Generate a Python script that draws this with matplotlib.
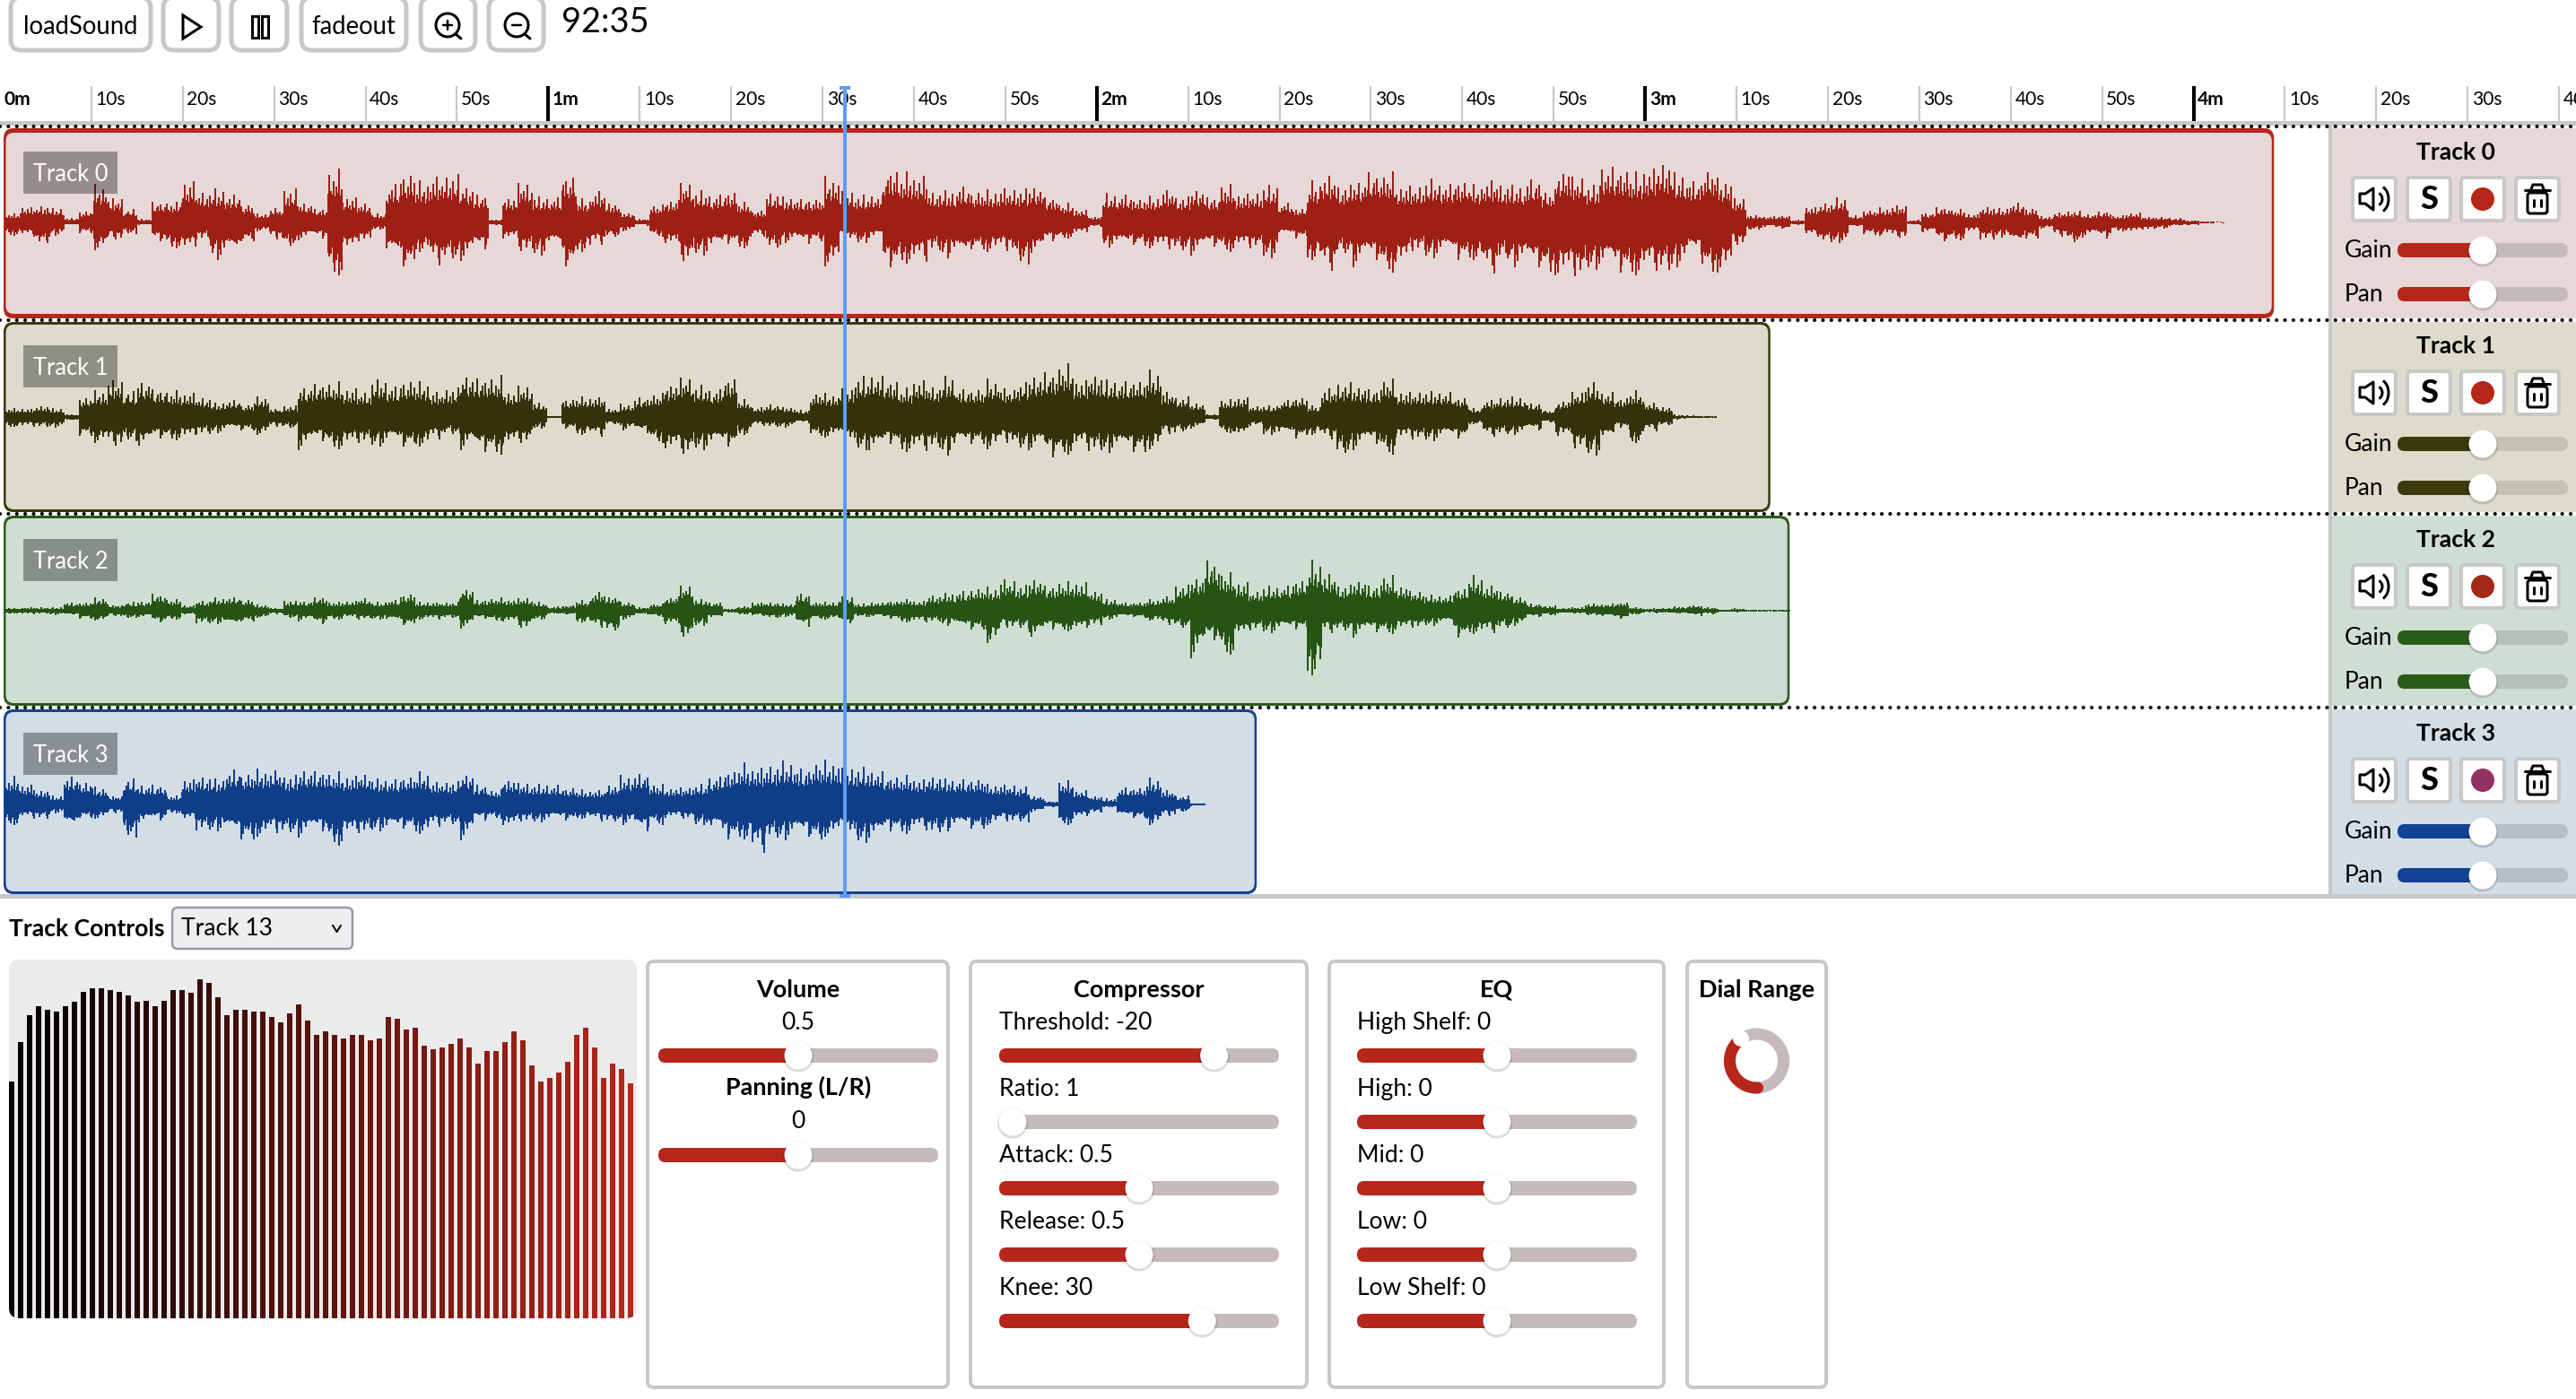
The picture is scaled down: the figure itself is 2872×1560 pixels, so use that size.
import numpy as np
import matplotlib
matplotlib.use("Agg")
import matplotlib.pyplot as plt
from matplotlib.patches import FancyBboxPatch, Circle, Rectangle, Polygon, Arc
from matplotlib.colors import to_rgb

W, H = 2872, 1560
PX_PER_S = 10.19
FONT = "Lato"
plt.rcParams["font.family"] = [FONT, "DejaVu Sans"]

TIME_TEXT = "92:35"
TOOL_LABELS = ["loadSound", "fadeout"]
TRACK_NAMES = ["Track 0", "Track 1", "Track 2", "Track 3"]
TRACK_BG = ["#e7d8d8", "#dddccc", "#cfded3", "#d2dde6"]
TRACK_EDGE = ["#b7261a", "#3a3a0c", "#2a5c18", "#114293"]
TRACK_WAVE = ["#9e1f13", "#35320a", "#265415", "#0f3d88"]
TRACK_REST = ["#c5b9b9", "#c3c2b4", "#b6c1b8", "#b6bec6"]
RECORD_COL = ["#b7261a", "#b7261a", "#a32a17", "#93305f"]
CLIP_END_S = [248.8, 193.7, 195.8, 137.5]
CLIP_LW = [5, 3, 3, 3]

WAVE_T0 = 1.5
WAVE_DT = 1.6

# Waveform envelopes, one up and one down value per 1.6 s bin.
T0_UP = [30,55,58,50,15,40,130,85,45,12,75,70,145,110,115,100,65,30,50,115,70,50,180,90,70,30,140,175,140,160,165,130,100,10,90,140,90,90,170,80,110,70,35,12,60,80,140,110,100,
         110,70,40,105,90,85,85,155,110,95,100,190,170,165,110,110,130,110,110,120,115,130,90,65,45,20,100,100,85,90,115,90,120,90,130,100,105,130,70,50,140,165,130,150,180,170,130,130,150,140,150,130,150,135,130,
         155,110,190,160,130,200,190,170,190,210,170,150,190,150,85,25,22,25,8,55,70,85,25,45,50,60,8,35,55,45,30,55,50,70,50,20,35,40,30,40,25,35,20,18,15,8,3,2]
T0_DN = [45,50,75,45,10,40,95,60,40,10,70,90,100,60,125,120,70,30,60,85,60,60,180,100,65,25,130,165,100,150,130,130,100,10,60,100,110,90,165,100,80,50,30,12,50,80,135,110,100,
         80,90,50,90,70,80,70,150,60,70,60,170,140,140,100,120,130,100,100,100,140,120,70,55,40,15,85,90,85,90,95,100,110,90,100,90,90,120,50,60,130,170,110,150,140,170,150,100,120,120,140,130,180,130,150,
         170,180,190,190,160,170,190,180,170,170,150,120,180,170,80,25,20,25,8,50,70,70,20,45,45,55,8,40,70,60,35,60,50,85,60,20,50,70,50,60,30,35,25,20,15,10,3,2]

T1_UP = [30,30,40,30,10,70,90,130,90,130,100,90,85,70,50,60,45,70,30,40,110,120,120,100,90,130,110,130,120,90,100,150,140,140,90,110,50,4,65,70,70,30,45,70,80,120,140,110,100,140,60,35,45,35,25,85,80,100,140,150,130,
         100,130,110,140,100,100,130,100,120,150,160,180,130,150,130,130,130,160,90,70,50,10,60,70,40,40,60,70,40,100,120,110,100,130,90,90,90,90,70,30,60,70,70,50,25,60,90,120,90,70,90,50,35,8,5,3]
T1_DN = [35,35,35,35,15,70,90,100,80,110,80,80,75,60,55,50,50,60,35,40,110,90,110,100,90,100,100,110,100,80,60,110,130,130,100,90,40,4,45,60,70,25,45,60,90,120,130,110,110,110,60,30,35,35,25,70,70,80,110,130,100,
         120,120,110,130,110,100,110,90,110,120,150,130,110,120,120,130,130,110,60,50,40,10,55,70,30,60,70,80,60,80,130,110,100,130,80,80,80,80,80,25,70,60,60,50,20,70,110,130,90,40,90,50,30,8,5,3]

T2_UP = [10,12,12,12,30,30,45,20,30,35,60,40,20,35,45,50,40,20,10,35,35,50,30,35,45,30,40,60,30,30,30,80,40,45,40,45,30,15,20,35,65,50,30,12,25,50,90,40,30,8,15,30,30,25,60,30,30,50,25,30,35,40,35,55,60,70,80,80,110,90,115,90,100,100,70,40,30,30,40,50,90,120,180,130,100,70,85,90,110,170,130,90,110,90,120,90,70,55,55,80,120,90,70,50,25,18,10,12,25,25,30,12,8,10,15,20,12,5,8,3,3,3]
T2_DN = [10,12,10,14,20,30,35,20,25,25,45,30,15,45,45,60,40,25,12,25,35,50,30,25,30,30,40,55,30,30,25,60,30,35,40,60,30,15,15,40,60,70,30,15,20,50,90,50,30,8,12,20,25,20,60,30,30,50,20,25,30,40,40,40,50,70,70,110,60,60,100,70,70,70,50,30,25,25,35,50,60,160,110,150,90,70,75,75,70,220,80,70,90,80,80,70,60,50,50,100,80,80,60,50,25,15,10,10,15,25,30,12,8,8,10,20,12,5,5,3,3,3]

T3_UP = [95,70,50,30,100,80,60,30,90,70,70,30,90,100,90,125,110,120,120,100,125,120,110,100,110,90,90,100,110,80,80,110,70,50,90,75,70,70,60,50,50,70,100,110,70,60,60,70,100,120,140,130,140,150,130,150,150,130,130,120,100,100,90,100,90,90,90,70,70,60,30,12,80,50,30,20,60,60,90,50,30,5]
T3_DN = [70,50,50,30,90,50,50,30,110,70,60,30,60,90,90,110,130,110,100,100,110,100,140,110,100,90,100,90,100,80,70,120,60,50,80,60,60,60,60,50,60,60,70,100,70,50,50,70,100,130,120,170,120,120,120,130,110,100,130,130,100,100,90,100,90,90,90,70,60,60,30,10,70,50,30,10,50,50,70,40,25,5]

WAVE_UP = [T0_UP, T1_UP, T2_UP, T3_UP]
WAVE_DN = [T0_DN, T1_DN, T2_DN, T3_DN]

# Stroke style only, not measured data: how long the hairlines of one bin are,
# relative to that bin's envelope value. The bin values above set all the levels.
STROKE_GRAIN = [0.58,0.52,0.76,0.48,0.66,0.55,1.00,0.50,0.62,0.72,0.46,0.56,0.86,0.52,0.64,0.48,0.80,0.58,0.54,0.95,
                0.47,0.68,0.56,0.75,0.51,0.61,0.91,0.49,0.54,0.70,0.46,0.83,0.58,0.52,0.65,0.98,0.48,0.55,0.73,0.50,
                0.62,0.88,0.52,0.46,0.67,0.56,0.78,0.49,0.60,0.93,0.53,0.48,0.63,0.74,0.51,0.82,0.56,0.47,0.69,0.54,0.89]
STROKES_PER_BIN = 11

SPECTRUM = [264.5,308,338.5,348.5,344,342,348.5,352.6,364,368.5,368.5,366,364,360,352.6,354,348.5,354,366,366,362.6,378.5,374.4,358.5,338.5,344,344,342,342,336,330,340,350,332,316,320,316,312,316,316,310,312,336,334,322,324.5,304.5,300,302,306,312,302,284.5,298.5,298.5,308.5,320,310,282,264.5,268,274.5,286,316,324.5,302,268,284.5,278.5,262]

COMP_LABELS = ["Threshold: -20", "Ratio: 1", "Attack: 0.5", "Release: 0.5", "Knee: 30"]
COMP_POS = [0.768, 0.048, 0.5, 0.5, 0.725]
EQ_LABELS = ["High Shelf: 0", "High: 0", "Mid: 0", "Low: 0", "Low Shelf: 0"]
EQ_POS = [0.5, 0.5, 0.5, 0.5, 0.5]

RED, RED_REST, GRAY = "#b7261a", "#c6baba", "#c8c8c8"

fig = plt.figure(figsize=(W / 100, H / 100), dpi=100, facecolor="white")


def layer(z):
    a = fig.add_axes([0, 0, 1, 1], zorder=z)
    a.set_xlim(0, W)
    a.set_ylim(H, 0)
    a.axis("off")
    a.patch.set_alpha(0)
    return a


ui = layer(1)
wave = layer(2)
wave.set_xlim(0, W / PX_PER_S)
top = layer(3)


def px(v):
    return v * 0.72


def rbox(a, x0, y0, x1, y1, r, fc="none", ec="none", lw=0, z=2, alpha=None):
    p = FancyBboxPatch((x0 + r, y0 + r), x1 - x0 - 2 * r, y1 - y0 - 2 * r,
                       boxstyle=f"round,pad={r},rounding_size={r}",
                       fc=fc, ec=ec, lw=px(lw), zorder=z, alpha=alpha)
    a.add_patch(p)
    return p


def label(a, x, y, s, size, weight="normal", ha="left", color="black", z=8):
    return a.text(x, y + 2.5, s, fontsize=px(size), fontweight=weight, ha=ha, va="center",
                  color=color, zorder=z, clip_on=False)


def slider(a, x0, x1, y, pos, fill, rest):
    rbox(a, x0, y - 8, x1, y + 8, 8, fc=rest, z=3)
    kx = x0 + pos * (x1 - x0)
    if pos > 0.06:
        rbox(a, x0, y - 8, kx, y + 8, 8, fc=fill, z=4)
    a.add_patch(Circle((kx, y + 1.5), 17, fc="black", alpha=0.14, lw=0, zorder=5))
    a.add_patch(Circle((kx, y), 15.5, fc="white", lw=0, zorder=6))


def line(a, xs, ys, lw=3, color="black", z=7):
    a.plot(xs, ys, color=color, lw=px(lw), solid_capstyle="round", solid_joinstyle="round", zorder=z)


def dotted(a, x0, x1, y):
    a.plot([x0, x1], [y, y], color="black", lw=px(4.2), linestyle=(0, (0.01, 2.22)),
           dash_capstyle="round", zorder=9)


# ---------- toolbar ----------
for x0, x1 in [(10, 170), (180, 246), (256, 322), (334, 455), (467, 532), (543, 608)]:
    rbox(ui, x0 + 2, -3, x1 - 2, 56, 12, fc="white", ec=GRAY, lw=5)
label(ui, 90, 28, TOOL_LABELS[0], 27.5, ha="center")
label(ui, 394.5, 28, TOOL_LABELS[1], 27.5, ha="center")
ui.add_patch(Polygon([(204, 17), (224, 30), (204, 43)], closed=True, fc="none", ec="black", lw=px(3), zorder=7))
ui.add_patch(Rectangle((281, 18), 7, 24, fc="none", ec="black", lw=px(3), zorder=7))
ui.add_patch(Rectangle((292, 18), 7, 24, fc="none", ec="black", lw=px(3), zorder=7))
for cx, plus in [(499, True), (576, False)]:
    ui.add_patch(Circle((cx, 28), 13, fc="none", ec="black", lw=px(3), zorder=7))
    line(ui, [cx - 5, cx + 5], [28, 28], 2.5)
    if plus:
        line(ui, [cx, cx], [23, 33], 2.5)
    line(ui, [cx + 9, cx + 15], [38, 43], 3)
label(ui, 626, 22, TIME_TEXT, 38)

# ---------- timeline ----------
for sec in range(0, 290, 10):
    major = sec % 60 == 0
    if sec:
        wave.plot([sec, sec], [96, 135], color="black" if major else GRAY, lw=px(4 if major else 2.2),
                  solid_capstyle="butt", zorder=1)
    m, s = divmod(sec, 60)
    text = f"{m}m" if major else f"{s}s"
    label(wave, sec + (0.45 if sec else 0.4), 108.5, text, 21, weight="bold" if major else "normal")
ui.add_patch(Rectangle((0, 135), W, 5, fc=GRAY, lw=0, zorder=1))
ui.add_patch(Rectangle((0, 997), W, 5, fc=GRAY, lw=0, zorder=1))
ui.add_patch(Rectangle((2596, 140), 4, 860, fc=GRAY, lw=0, zorder=1))

# ---------- tracks ----------
for k, name in enumerate(TRACK_NAMES):
    dy = 216 * k
    y0, y1 = 143 + dy, (355 + dy if k < 3 else 997)
    end_px = CLIP_END_S[k] * PX_PER_S
    rbox(ui, 4, y0, end_px, y1, 11, fc=TRACK_EDGE[k], z=1.4)
    rbox(ui, 6.5, y0 + CLIP_LW[k], end_px - 2.5, y1 - CLIP_LW[k], 9, fc=TRACK_BG[k], z=1.5)
    dotted(top, 0, W, 141 + dy)

    up = np.array(WAVE_UP[k], dtype=float) / 3
    dn = np.array(WAVE_DN[k], dtype=float) / 3
    t = WAVE_T0 + WAVE_DT * np.arange(len(up))
    cy = [248, 465, 681, 897][k]
    sub = (np.arange(STROKES_PER_BIN) / STROKES_PER_BIN - 0.5) * WAVE_DT
    xs = (t[:, None] + sub).ravel()
    ups = np.repeat(up, STROKES_PER_BIN)
    dns = np.repeat(dn, STROKES_PER_BIN)
    gu = np.take(STROKE_GRAIN, np.arange(xs.size), mode="wrap")
    gd = np.take(STROKE_GRAIN, np.arange(xs.size) * 3 + 17, mode="wrap")
    wave.vlines(xs, cy - ups * gu, cy + dns * gd, colors=TRACK_WAVE[k], lw=px(2.0), zorder=3)

    rbox(top, 26, 169 + dy, 131, 216 + dy, 0.1, fc="black", alpha=0.35, z=5)
    label(top, 78.5, 192 + dy, name, 25.5, ha="center", color="white")

    # side panel
    ui.add_patch(Rectangle((2600, y0, ), W - 2600, y1 - y0, fc=TRACK_BG[k], lw=0, zorder=1.2))
    label(ui, 2738, 167 + dy, name, 26.5, weight="bold", ha="center")
    for x0 in (2621, 2682, 2742, 2803):
        rbox(ui, x0 + 2, 198 + dy, x0 + 50, 246 + dy, 4, fc="white", ec=GRAY, lw=4, z=3)
    # speaker
    b = 222 + dy
    ui.add_patch(Polygon([(2631, b - 6), (2637, b - 6), (2646, b - 12), (2646, b + 12), (2637, b + 5), (2631, b + 5)],
                         closed=True, fc="none", ec="black", lw=px(3), joinstyle="round", zorder=7))
    ui.add_patch(Arc((2650, b), 12, 14, theta1=-70, theta2=70, color="black", lw=px(3), zorder=7))
    ui.add_patch(Arc((2652, b), 22, 30, theta1=-70, theta2=70, color="black", lw=px(3), zorder=7))
    label(ui, 2708, b - 2, "S", 36, weight="black", ha="center")
    ui.add_patch(Circle((2768, b), 13, fc=RECORD_COL[k], lw=0, zorder=7))
    # trash
    line(ui, [2815, 2843], [212 + dy, 212 + dy], 3)
    line(ui, [2822, 2824, 2834, 2836], [211 + dy, 206 + dy, 206 + dy, 211 + dy], 3)
    rbox(ui, 2818, 215 + dy, 2840, 238 + dy, 3, ec="black", lw=3, z=7)
    line(ui, [2825, 2825], [223 + dy, 230 + dy], 3)
    line(ui, [2833, 2833], [223 + dy, 230 + dy], 3)
    # gain and pan
    for yy, lab in [(279, "Gain"), (328, "Pan")]:
        label(ui, 2614, yy - 2 + dy, lab, 26.5)
        slider(ui, 2673, 2863, yy + dy, 0.5, TRACK_EDGE[k], TRACK_REST[k])

# ---------- playhead ----------
top.add_patch(Rectangle((940, 96), 4, 904, fc="#5f9cf2", lw=0, zorder=6))
top.add_patch(Rectangle((936, 96), 12, 4, fc="#5f9cf2", lw=0, zorder=6))
top.add_patch(Rectangle((936, 997), 12, 4, fc="#5f9cf2", lw=0, zorder=6))

# ---------- bottom controls ----------
label(ui, 10, 1033, "Track Controls", 26.5, weight="bold")
rbox(ui, 192, 1012, 393, 1058, 6, fc="#eeeef1", ec="#9a9aa5", lw=2.5)
label(ui, 202, 1033, "Track 13", 26.5)
line(ui, [371, 375.5, 380], [1032, 1039, 1032], 2)

panel = rbox(ui, 10, 1070, 710, 1470, 12, fc="#ebebeb", lw=0)
spec = fig.add_axes([10 / W, 1 - 1470 / H, 700 / W, 400 / H], zorder=2)
spec.set_xlim(-0.3, len(SPECTRUM) - 0.3)
spec.set_ylim(0, 400)
spec.axis("off")
spec.patch.set_alpha(0)
c0, c1 = np.array(to_rgb("#000000")), np.array(to_rgb("#b7261a"))
cols = [tuple(c0 + (c1 - c0) * i / (len(SPECTRUM) - 1)) for i in range(len(SPECTRUM))]
bars = spec.bar(np.arange(len(SPECTRUM)), SPECTRUM, width=0.58, color=cols, lw=0)
for bar in bars:
    bar.set_clip_path(panel)

for x0, x1 in [(720, 1059), (1080, 1459), (1480, 1857), (1879, 2038)]:
    rbox(ui, x0 + 2, 1072, x1 - 2, 1547, 7, fc="white", ec=GRAY, lw=4)

label(ui, 890, 1101, "Volume", 27, weight="bold", ha="center")
label(ui, 890, 1138, "0.5", 26.5, ha="center")
slider(ui, 734, 1046, 1177, 0.5, RED, RED_REST)
label(ui, 890, 1210, "Panning (L/R)", 27, weight="bold", ha="center")
label(ui, 890, 1248, "0", 26.5, ha="center")
slider(ui, 734, 1046, 1288, 0.5, RED, RED_REST)

label(ui, 1270, 1101, "Compressor", 27, weight="bold", ha="center")
label(ui, 1668, 1101, "EQ", 27, weight="bold", ha="center")
label(ui, 1958.5, 1101, "Dial Range", 27, weight="bold", ha="center")
for x0, labs, poss in [(1114, COMP_LABELS, COMP_POS), (1513, EQ_LABELS, EQ_POS)]:
    for i, (lab, pos) in enumerate(zip(labs, poss)):
        label(ui, x0, 1138 + 74 * i, lab, 26.5)
        slider(ui, x0, x0 + 312, 1177 + 74 * i, pos, RED, RED_REST)

# dial
ang = np.deg2rad(np.linspace(0, 360, 200))
dial_x, dial_y = 1958.5 + 30 * np.cos(ang), 1183 - 30 * np.sin(ang)
ui.plot(dial_x, dial_y, color=RED_REST, lw=px(13), zorder=3)
ang = np.deg2rad(np.linspace(126, 272, 100))
ui.plot(1958.5 + 30 * np.cos(ang), 1183 - 30 * np.sin(ang), color=RED, lw=px(13), solid_capstyle="round", zorder=4)
ui.add_patch(Circle((1941, 1158), 9, fc="white", lw=0, zorder=6))

fig.savefig("out.png", dpi=100, facecolor="white")
